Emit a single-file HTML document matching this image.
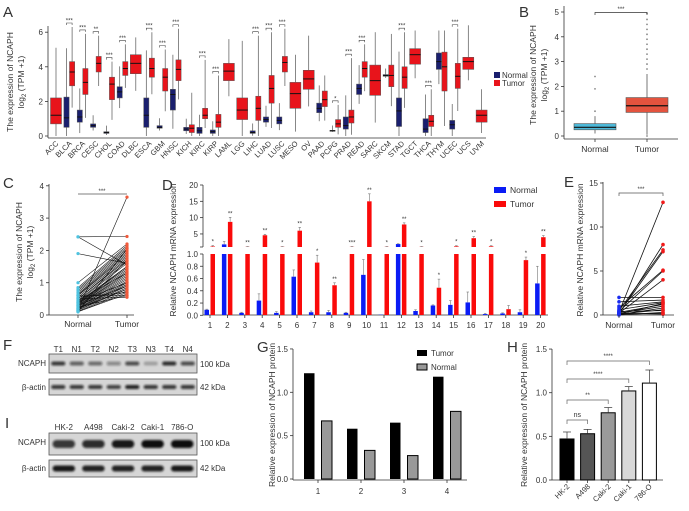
<!DOCTYPE html>
<html><head><meta charset="utf-8">
<style>
html,body{margin:0;padding:0;background:#fff;}
svg{display:block;font-family:"Liberation Sans",Arial,sans-serif;}
text{fill:#333;}
</style></head>
<body>
<svg id="fig" width="689" height="511" viewBox="0 0 689 511">
<defs>
<filter id="blur" x="-20%" y="-50%" width="140%" height="200%"><feGaussianBlur stdDeviation="1.1"/></filter>
</defs>
<!-- panel letters -->
<text x="3" y="17" font-size="15">A</text>
<text x="519" y="17" font-size="15">B</text>
<text x="3" y="188" font-size="15">C</text>
<text x="162" y="190" font-size="15">D</text>
<text x="564" y="187" font-size="15">E</text>
<text x="3" y="350" font-size="15">F</text>
<text x="257" y="352" font-size="15">G</text>
<text x="507" y="352" font-size="15">H</text>
<text x="5" y="428" font-size="15">I</text>
<!-- axis titles -->
<text transform="translate(13,82) rotate(-90)" text-anchor="middle" font-size="8.5">The expression of NCAPH</text>
<text transform="translate(24,82) rotate(-90)" text-anchor="middle" font-size="8.5">log<tspan font-size="6" dy="2">2</tspan><tspan dy="-2"> (TPM +1)</tspan></text>
<text transform="translate(536,75) rotate(-90)" text-anchor="middle" font-size="8.5">The expression of NCAPH</text>
<text transform="translate(547,75) rotate(-90)" text-anchor="middle" font-size="8.5">log<tspan font-size="6" dy="2">2</tspan><tspan dy="-2"> (TPM +1)</tspan></text>
<text transform="translate(22,252) rotate(-90)" text-anchor="middle" font-size="8.5">The expression of NCAPH</text>
<text transform="translate(33,252) rotate(-90)" text-anchor="middle" font-size="8.5">log<tspan font-size="6" dy="2">2</tspan><tspan dy="-2"> (TPM +1)</tspan></text>
<text transform="translate(176,250) rotate(-90)" text-anchor="middle" font-size="8.5">Relative NCAPH mRNA expression</text>
<text transform="translate(583,250) rotate(-90)" text-anchor="middle" font-size="8.5">Relative NCAPH mRNA expression</text>
<text transform="translate(275,415) rotate(-90)" text-anchor="middle" font-size="8.5">Relative expression of NCAPH protein</text>
<text transform="translate(527,415) rotate(-90)" text-anchor="middle" font-size="8.5">Relative expression of NCAPH protein</text>
</svg>
<script>
// ---------- Panel A data ----------
const catsA=["ACC","BLCA","BRCA","CESC","CHOL","COAD","DLBC","ESCA","GBM","HNSC","KICH","KIRC","KIRP","LAML","LGG","LIHC","LUAD","LUSC","MESO","OV","PAAD","PCPG","PRAD","READ","SARC","SKCM","STAD","TGCT","THCA","THYM","UCEC","UCS","UVM"];
const nMedA=[null,1.05,1.1,0.6,0.2,2.55,null,1.2,0.5,2.4,0.4,0.3,0.25,null,null,0.2,0.95,0.9,null,null,1.6,0.3,0.6,2.75,null,3.5,1.45,null,0.4,4.3,0.65,null,null];
const nQ1A=[null,0.5,0.8,0.5,0.15,2.2,null,0.5,0.45,1.5,0.3,0.15,0.15,null,null,0.15,0.8,0.7,null,null,1.35,0.28,0.4,2.4,null,3.45,0.55,null,0.2,3.85,0.4,null,null];
const nQ3A=[null,2.25,1.5,0.7,0.25,2.85,null,2.2,0.6,2.7,0.5,0.5,0.35,null,null,0.3,1.1,1.1,null,null,1.9,0.33,1.1,3.0,null,3.55,2.2,null,1.0,4.8,0.9,null,null];
const tMedA=[1.2,3.7,3.1,4.2,3.0,3.9,4.2,3.9,3.4,3.85,0.45,1.2,0.8,3.75,1.5,1.6,2.75,4.25,2.45,3.3,2.1,0.7,1.1,3.9,3.2,3.5,3.4,4.7,0.85,4.0,3.45,4.3,1.2];
const tQ1A=[0.7,2.9,2.4,3.7,2.1,3.5,3.6,3.4,2.6,3.2,0.2,1.0,0.5,3.2,0.95,0.9,1.9,3.7,1.6,2.7,1.7,0.5,0.75,3.4,2.35,2.85,2.75,4.15,0.55,2.6,2.75,3.85,0.8];
const tQ3A=[2.2,4.3,3.9,4.6,3.4,4.3,4.7,4.5,3.9,4.4,0.65,1.6,1.25,4.2,2.2,2.3,3.5,4.6,3.1,3.8,2.6,0.95,1.5,4.3,4.1,4.1,4.0,5.05,1.2,4.85,4.2,4.55,1.5];
const tHiA=[5.1,6.3,5.9,5.8,4.3,5.3,5.7,6.0,5.0,6.2,2.5,4.4,3.5,5.6,5.5,5.8,6.0,6.2,4.7,5.8,3.5,1.8,4.5,5.3,6.0,5.9,6.0,6.1,2.7,6.1,6.2,6.4,2.7];
const sigA=["","***","***","**","***","***","","***","***","***","","***","***","","","***","***","***","","","","*","***","***","","","***","","***","","***","",""];
// ---------- Panel B data ----------
const groupsB=["Normal","Tumor"];
const medB=[0.35,1.22], q1B=[0.25,0.95], q3B=[0.5,1.55], loB=[0.1,0.05], hiB=[0.8,2.5];
const outB=[[1.0,1.9,2.4],[2.7,2.9,3.1,3.3,3.5,3.7,3.9,4.1,4.3,4.5,4.7,4.95,0.0]];
const ticksB=[0,1,2,3,4,5];
// ---------- Panel C data ----------
const cN=[2.42,2.42,1.9,0.15,1.0,0.85,0.8,0.75,0.7,0.65,0.62,0.6,0.55,0.5,0.5,0.45,0.42,0.4,0.38,0.35,0.33,0.3,0.3,0.28,0.25,0.25,0.22,0.2,0.2,0.18,0.15,0.15,0.12,0.1,0.1,0.6,0.5,0.4,0.3,0.2,0.15,0.35,0.45,0.55,0.25,0.1];
const cT=[2.43,1.55,1.6,3.65,2.2,2.15,2.1,2.05,2.0,1.95,1.9,1.85,1.8,1.75,1.7,1.65,1.6,1.5,1.45,1.4,1.35,1.3,1.25,1.2,1.15,1.1,1.05,1.0,0.95,0.9,0.85,0.8,0.75,0.7,0.65,0.6,0.55,1.0,0.9,0.8,1.7,1.5,1.3,0.7,0.6,2.05];
const ticksC=[0,1,2,3,4];
// ---------- Panel D data ----------
const catsD=["1","2","3","4","5","6","7","8","9","10","11","12","13","14","15","16","17","18","19","20"];
const dN=[0.09,1.8,0.04,0.24,0.04,0.63,0.05,0.05,0.04,0.66,0.01,1.9,0.07,0.16,0.17,0.21,0.02,0.03,0.05,0.52];
const dT=[1.15,8.7,1.05,4.6,1.05,6.0,0.86,0.49,1.05,15.0,1.05,7.9,1.05,0.45,1.2,3.7,1.2,0.10,0.90,4.0];
const dNe=[0.01,0.9,0.01,0.11,0.02,0.11,0.02,0.03,0.01,0.25,0.0,0.1,0.02,0.01,0.07,0.17,0.01,0.01,0.04,0.28];
const dTe=[0.3,1.4,0.1,0.3,0.1,1.0,0.12,0.04,0.1,2.3,0.1,0.5,0.1,0.14,0.2,0.5,0.2,0.06,0.05,0.5];
const sigD=["*","**","**","**","*","**","*","**","***","**","*","**","*","*","*","**","*","","*","**"];
const ticksDb=[0,0.2,0.4,0.6,0.8,1.0], ticksDt=[5,10,15,20];
// ---------- Panel E data ----------
const eN=[0.3,0.1,0.5,0.2,0.8,0.4,0.2,2.0,1.5,1.0,0.6,0.1,0.3,0.2,0.05,0.1,0.4,0.0,0.1,0.2];
const eT=[12.8,8.0,7.4,7.2,5.1,5.0,4.0,2.0,1.7,1.5,1.4,1.3,1.2,1.0,0.8,0.6,0.5,0.3,0.2,0.1];
const ticksE=[0,5,10,15];
// ---------- Panel F / I blots ----------
const lanesF=["T1","N1","T2","N2","T3","N3","T4","N4"];
const ncaphF=[0.8,0.6,0.55,0.4,0.7,0.25,0.85,0.7];
const actinF=[0.8,0.8,0.8,0.75,0.9,0.8,0.8,0.8];
const lanesI=["HK-2","A498","Caki-2","Caki-1","786-O"];
const ncaphI=[0.8,0.85,0.95,1.0,1.0];
const actinI=[0.95,0.9,0.9,0.9,0.95];
// ---------- Panel G data ----------
const catsG=["1","2","3","4"];
const gT=[1.22,0.58,0.65,1.18], gN=[0.67,0.33,0.27,0.78];
const ticksG=[0,0.5,1.0,1.5];
// ---------- Panel H data ----------
const catsH=["HK-2","A498","Caki-2","Caki-1","786-O"];
const hV=[0.47,0.53,0.77,1.02,1.11], hE=[0.08,0.05,0.06,0.05,0.15];
const hColors=["#000","#555","#9a9a9a","#d8d8d8","#fff"];
const ticksH=[0,0.5,1.0,1.5];

const svg=document.getElementById('fig');
const NS='http://www.w3.org/2000/svg';
function el(t,a,p){const e=document.createElementNS(NS,t);for(const k in a)e.setAttribute(k,a[k]);(p||svg).appendChild(e);return e;}
function txt(x,y,s,size,anchor,p){const t=el('text',{x:x,y:y,'font-size':size,'text-anchor':anchor||'middle'},p);t.textContent=s;return t;}
function line(x1,y1,x2,y2,st,w,p){return el('line',{x1:x1,y1:y1,x2:x2,y2:y2,stroke:st||'#333','stroke-width':w||0.8},p);}

// ===== Panel A =====
(function(){
const g=el('g',{});


const yA=v=>136-v*17.3, xA=i=>56+i*13.3;
line(48,26,48,138,'#333',0.8,g); line(48,138,486,138,'#333',0.8,g);
[0,2,4,6].forEach(v=>{line(45,yA(v),48,yA(v),'#333',0.8,g);const t=txt(43,yA(v)+3,String(v),8,'end',g);});
function box(cx,w,q1,med,q3,hi,col,name){
  const lo=Math.max(0,q1-1.5*(q3-q1)*0.6);
  line(cx,yA(hi),cx,yA(q3),'#555',0.7,g); line(cx,yA(q1),cx,yA(lo),'#555',0.7,g);
  const r=el('rect',{x:cx-w/2,y:yA(q3),width:w,height:Math.max(1,yA(q1)-yA(q3)),fill:col,stroke:'#555','stroke-width':0.5},g);
  
  
  line(cx-w/2,yA(med),cx+w/2,yA(med),'#111',1,g);
}
catsA.forEach((c,i)=>{
  const cx=xA(i);
  if(nMedA[i]===null){box(cx,11,tQ1A[i],tMedA[i],tQ3A[i],tHiA[i],'#e8141b','tumor-box');}
  else{
    const nHi=Math.min(tHiA[i],nQ3A[i]+1.5*(nQ3A[i]-nQ1A[i])+0.2);
    box(cx-2.8,5.2,nQ1A[i],nMedA[i],nQ3A[i],nHi,'#1a1f6e','normal-box');
    box(cx+2.8,5.2,tQ1A[i],tMedA[i],tQ3A[i],tHiA[i],'#e8141b','tumor-box');
    if(sigA[i]){const yb=yA(Math.max(tHiA[i],nHi))-4;
      const p=el('path',{d:`M${cx-2.8} ${yb+2}V${yb}H${cx+2.8}V${yb+2}`,fill:'none',stroke:'#444','stroke-width':0.6},g);
      
      
      txt(cx,yb-0.5,sigA[i],6,'middle',g);}
  }
  const t=el('text',{transform:`translate(${cx+3},144) rotate(-45)`,'text-anchor':'end','font-size':7.5},g);
  t.textContent=c;
  
  
});
const lg=el('g',{},g);


el('rect',{x:494,y:72,width:6,height:6,fill:'#1a1f6e'},lg); txt(502,78,'Normal',8,'start',lg);
el('rect',{x:494,y:80,width:6,height:6,fill:'#e8141b'},lg); txt(502,86,'Tumor',8,'start',lg);
})();

// ===== Panel B =====
(function(){
const g=el('g',{});


const yB=v=>136-v*24.8, xB=[595,647];
line(564,6,564,139,'#333',0.8,g); line(564,139,678,139,'#333',0.8,g);
ticksB.forEach(v=>{line(561,yB(v),564,yB(v),'#333',0.8,g);txt(559,yB(v)+3,String(v),8,'end',g);});
const cols=['#4db8d8','#e4533e'];
groupsB.forEach((n,i)=>{
  const cx=xB[i];
  line(cx,yB(hiB[i]),cx,yB(loB[i]),'#555',0.8,g);
  outB[i].forEach(v=>{el('circle',{cx:cx,cy:yB(v),r:0.9,fill:'#888'},g);});
  const r=el('rect',{x:cx-21,y:yB(q3B[i]),width:42,height:yB(q1B[i])-yB(q3B[i]),fill:cols[i],stroke:'#555','stroke-width':0.6},g);
  
  
  line(cx-21,yB(medB[i]),cx+21,yB(medB[i]),'#111',1.2,g);
  line(cx,139,cx,142,'#333',0.8,g);
  txt(cx,152,n,8.5,'middle',g);
});
el('path',{d:`M595 15V12.5H647V15`,fill:'none',stroke:'#333','stroke-width':0.7},g);
txt(621,11,'***',6,'middle',g);
})();

// ===== Panel C =====
(function(){
const g=el('g',{});


const yC=v=>315-v*32.3, xN=78, xT=127;
line(49,184,49,315,'#333',0.8,g); line(49,315,134,315,'#333',0.8,g);
ticksC.forEach(v=>{line(46,yC(v),49,yC(v),'#333',0.8,g);txt(44,yC(v)+3,String(v),8,'end',g);});
cN.forEach((v,i)=>{const l=line(xN,yC(v),xT,yC(cT[i]),'#111',0.6,g);});
cN.forEach(v=>{el('circle',{cx:xN,cy:yC(v),r:1.6,fill:'#4ec3e0'},g);});
cT.forEach(v=>{el('circle',{cx:xT,cy:yC(v),r:1.6,fill:'#f05a3c'},g);});
[xN,xT].forEach(x=>line(x,315,x,318,'#333',0.8,g));
txt(xN,327,'Normal',8.5,'middle',g); txt(xT,327,'Tumor',8.5,'middle',g);
line(xN,194,xT,194,'#555',0.8,g); txt(102,193,'***',6,'middle',g);
})();

// ===== Panel D =====
(function(){
const g=el('g',{});


const yb=v=>315.3-v*61.3, yt=v=>247-(v-1)*3.263, xD=i=>210+i*17.4;
line(203,185,203,247,'#333',0.8,g); line(203,254,203,315,'#333',0.8,g); line(203,315,548,315,'#333',0.8,g);
ticksDb.forEach(v=>{line(200,yb(v),203,yb(v),'#333',0.8,g);txt(198,yb(v)+3,v.toFixed(1),8,'end',g);});
line(200,247,203,247,'#333',0.8,g);
ticksDt.forEach(v=>{line(200,yt(v),203,yt(v),'#333',0.8,g);txt(198,yt(v)+3,String(v),8,'end',g);});
function bar(x,v,e,col,name){
  const top=v<=1?yb(v):yt(v);
  if(v<=1){const r=el('rect',{x:x,y:yb(v),width:4.5,height:315-yb(v),fill:col},g);}
  else{const r=el('rect',{x:x,y:yb(1),width:4.5,height:315-yb(1),fill:col},g);
    const r2=el('rect',{x:x,y:yt(v),width:4.5,height:247-yt(v),fill:col},g);}
  const ve=v+e, ye=v<=1?(ve<=1?yb(ve):yb(1)-1):yt(ve);
  if(e>0){line(x+2.25,ye,x+2.25,top,'#777',0.6,g);line(x+1,ye,x+3.5,ye,'#777',0.6,g);}
  return Math.min(ye,top);
}
catsD.forEach((c,i)=>{
  const cx=xD(i);
  bar(cx-5.5,dN[i],dNe[i],'#0a1cf5','d-bar-normal');
  const tp=bar(cx+0.5,dT[i],dTe[i],'#fa0a0a','d-bar-tumor');
  if(sigD[i]) txt(cx+2.75,tp-2,sigD[i],6,'middle',g);
  line(cx,315,cx,318,'#333',0.8,g);
  const t=txt(cx,328,c,8,'middle',g);
  
  
});
const lg=el('g',{},g);


el('rect',{x:494,y:187,width:12,height:6,fill:'#0a1cf5'},lg); txt(510,193,'Normal',8.5,'start',lg);
el('rect',{x:494,y:201,width:12,height:6,fill:'#fa0a0a'},lg); txt(510,207,'Tumor',8.5,'start',lg);
})();

// ===== Panel E =====
(function(){
const g=el('g',{});


const yE=v=>315-v*8.8, xN=619, xT=663;
line(603,182,603,315,'#333',0.8,g); line(603,315,674,315,'#333',0.8,g);
ticksE.forEach(v=>{line(600,yE(v),603,yE(v),'#333',0.8,g);txt(598,yE(v)+3,String(v),8,'end',g);});
eN.forEach((v,i)=>{const l=line(xN,yE(v),xT,yE(eT[i]),'#111',0.8,g);});
eN.forEach(v=>{el('circle',{cx:xN,cy:yE(v),r:1.8,fill:'#1a2cf0'},g);});
eT.forEach(v=>{el('circle',{cx:xT,cy:yE(v),r:1.8,fill:'#f01a1a'},g);});
[xN,xT].forEach(x=>line(x,315,x,318,'#333',0.8,g));
txt(xN,328,'Normal',8.5,'middle',g); txt(xT,328,'Tumor',8.5,'middle',g);
el('path',{d:`M${xN} 196V193H${xT}V196`,fill:'none',stroke:'#555','stroke-width':0.7},g);
txt(641,191,'***',6,'middle',g);
})();

// ===== Blots F & I =====
function blot(x,y,w,h,n,vals,thick,name){
  const g=el('g',{});
  
  
  el('rect',{x:x,y:y,width:w,height:h,fill:'#d6d6d6',stroke:'#555','stroke-width':0.8},g);
  const lw=w/n;
  vals.forEach((v,i)=>{
    const b=el('rect',{x:x+i*lw+lw*0.12,y:y+h/2-thick/2,width:lw*0.76,height:thick,rx:thick/2,fill:'#111','fill-opacity':v,filter:'url(#blur)'},g);
    
    
  });
  return g;
}
blot(49,354,148,19,8,ncaphF,4,'f-ncaph-blot');
blot(49,379,148,16,8,actinF,4,'f-actin-blot');
lanesF.forEach((l,i)=>{const t=txt(49+18.5*i+9.25,352,l,8,'middle');});
txt(46,366,'NCAPH',8,'end'); txt(46,390,'β-actin',8,'end');
txt(200,367,'100 kDa',8,'start'); txt(200,390,'42 kDa',8,'start');
blot(49,433,148,22,5,ncaphI,8,'i-ncaph-blot');
blot(49,460,148,17,5,actinI,6,'i-actin-blot');
lanesI.forEach((l,i)=>{const t=txt(49+29.6*i+14.8,430,l,8,'middle');});
txt(46,445,'NCAPH',8,'end'); txt(46,471,'β-actin',8,'end');
txt(200,446,'100 kDa',8,'start'); txt(200,471,'42 kDa',8,'start');

// ===== Panel G =====
(function(){
const g=el('g',{});


const yG=v=>479-v*86.7, xG=i=>318+i*43;
line(293,349,293,480,'#333',0.8,g); line(293,480,467,480,'#333',0.8,g);
ticksG.forEach(v=>{line(290,yG(v),293,yG(v),'#333',0.8,g);txt(288,yG(v)+3,v.toFixed(1),8,'end',g);});
catsG.forEach((c,i)=>{
  const cx=xG(i);
  const a=el('rect',{x:cx-14,y:yG(gT[i]),width:10.5,height:479-yG(gT[i]),fill:'#000'},g);
   
  const b=el('rect',{x:cx+3.5,y:yG(gN[i]),width:10.5,height:479-yG(gN[i]),fill:'#999',stroke:'#000','stroke-width':1},g);
   
  line(cx,480,cx,483,'#333',0.8,g);
  txt(cx,494,c,8,'middle',g);
});
const lg=el('g',{},g);


el('rect',{x:417,y:350,width:10,height:6,fill:'#000'},lg); txt(431,356,'Tumor',8,'start',lg);
el('rect',{x:417,y:364,width:10,height:6,fill:'#999',stroke:'#000','stroke-width':1},lg); txt(431,370,'Normal',8,'start',lg);
})();

// ===== Panel H =====
(function(){
const g=el('g',{});


const yH=v=>480-v*87.3, xH=i=>567+i*20.6;
line(552,349,552,480,'#333',0.8,g); line(552,480,663,480,'#333',0.8,g);
ticksH.forEach(v=>{line(549,yH(v),552,yH(v),'#333',0.8,g);txt(547,yH(v)+3,v.toFixed(1),8,'end',g);});
catsH.forEach((c,i)=>{
  const cx=xH(i);
  const r=el('rect',{x:cx-7,y:yH(hV[i]),width:14,height:480-yH(hV[i]),fill:hColors[i],stroke:'#000','stroke-width':1},g);
   
  line(cx,yH(hV[i]+hE[i]),cx,yH(hV[i]),'#333',0.7,g);
  line(cx-4,yH(hV[i]+hE[i]),cx+4,yH(hV[i]+hE[i]),'#333',0.7,g);
  line(cx,480,cx,483,'#333',0.8,g);
  const t=el('text',{transform:`translate(${cx+3},487) rotate(-45)`,'text-anchor':'end','font-size':7.5},g);
  t.textContent=c;
  
  
});
const br=[[0,1,'ns',420],[0,2,'**',400],[0,3,'****',379],[0,4,'****',361]];
br.forEach(b=>{
  const p=el('path',{d:`M${xH(b[0])} ${b[3]+4}V${b[3]}H${xH(b[1])}V${b[3]+4}`,fill:'none',stroke:'#666','stroke-width':0.7},g);
  
  
  txt((xH(b[0])+xH(b[1]))/2,b[3]-3,b[2],b[2]==='ns'?7:6,'middle',g);
});
})();
</script>
</body></html>
